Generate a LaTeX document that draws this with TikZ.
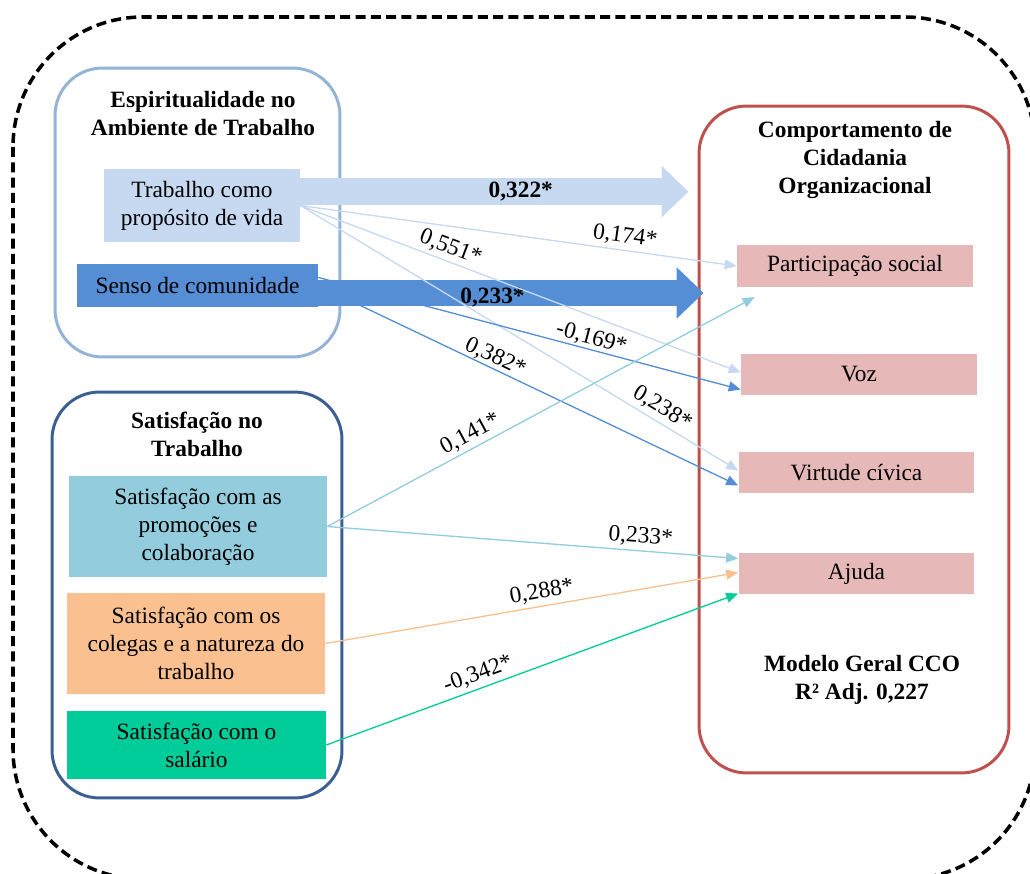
\documentclass[tikz,border=0pt]{standalone}
\usepackage{fontspec}
\setmainfont{Liberation Serif}
\usetikzlibrary{arrows.meta,calc}
\definecolor{espcor}{HTML}{95B3D7}
\definecolor{satcor}{HTML}{3B5F92}
\definecolor{ccocor}{HTML}{C0504D}
\definecolor{trabcor}{HTML}{C6D9F1}
\definecolor{sensocor}{HTML}{558ED5}
\definecolor{promocor}{HTML}{93CDDD}
\definecolor{colegcor}{HTML}{FAC090}
\definecolor{salcor}{HTML}{00CC99}
\definecolor{dimcor}{HTML}{E6B9B8}
\begin{document}
\begin{tikzpicture}[x=0.02cm, y=-0.02cm, font=\fontsize{13.3}{16}\selectfont,
	grupo/.style = {draw, line width=1.7pt, rounded corners=0.95cm, inner sep=0},
	titulo/.style = {align=center, font=\fontsize{13.3}{16}\selectfont\bfseries},
	fator/.style = {align=center, inner sep=0},
	dim/.style = {fill=dimcor, minimum width=4.72cm, minimum height=0.83cm, inner sep=0},
	grossa/.style = {-{Triangle[length=0.54cm, width=1.0cm]}},
	fina/.style = {line width=0.75pt, -{Triangle[length=0.24cm, width=0.2cm]}},
	peso/.style = {sloped, above, text=black, inner sep=2pt}]
	\useasboundingbox (0,0) rectangle (1030,874);
	% moldura externa
	\draw[line width=2pt, dash pattern=on 5.7pt off 3pt, rounded corners=2.6cm] (13,17) rectangle (1035,879);
	% grupos
	\node[grupo, draw=espcor, minimum width=5.7cm, minimum height=5.78cm] (esp) at (197.5,212.5) {};
	\node[grupo, draw=satcor, minimum width=5.8cm, minimum height=8.12cm] (sat) at (197,595) {};
	\node[grupo, draw=ccocor, minimum width=6.2cm, minimum height=13.34cm] (cco) at (854,439.5) {};
	\node[titulo] (esptit) at (203,113.5) {Espiritualidade no\\Ambiente de Trabalho};
	\node[titulo] (sattit) at (197,434) {Satisfação no\\Trabalho};
	\node[titulo] (ccotit) at (855,160) {Comportamento de\\Cidadania\\Organizacional};
	\node[titulo] (modelo) at (862,680) {Modelo Geral CCO\\R² Adj. 0,227};
	% fatores
	\node[fator, fill=trabcor, minimum width=3.92cm, minimum height=1.46cm] (trab) at (202,205.5) {Trabalho como\\propósito de vida};
	\node[fator, fill=sensocor, minimum width=4.82cm, minimum height=0.86cm] (senso) at (197.5,285.5) {Senso de comunidade};
	\node[fator, fill=promocor, minimum width=5.16cm, minimum height=2.02cm] (promo) at (198,526.5) {Satisfação com as\\promoções e\\colaboração};
	\node[fator, fill=colegcor, minimum width=5.16cm, minimum height=2.02cm] (coleg) at (196,643.5) {Satisfação com os\\colegas e a natureza do\\trabalho};
	\node[fator, fill=salcor, minimum width=5.18cm, minimum height=1.36cm] (sal) at (196.5,745) {Satisfação com o\\salário};
	\node[dim] (part) at (855,266) {Participação social};
	\node[dim] (voz) at (859,374.5) {Voz};
	\node[dim] (virt) at (856.5,472.5) {Virtude cívica};
	\node[dim] (ajuda) at (856.5,573.5) {Ajuda};
	% setas grossas
	\draw[grossa, trabcor, line width=0.54cm] ($(trab.north east)+(-2,23)$) -- node[pos=.57, text=black, font=\fontsize{13.3}{16}\selectfont\bfseries] {0,322*} ($(cco.west |- trab.north east)+(-9,23)$);
	\draw[grossa, sensocor, line width=0.52cm] ($(senso.east)+(-2,7.5)$) -- node[pos=.455, yshift=-0.1cm, text=black, font=\fontsize{13.3}{16}\selectfont\bfseries] {0,233*} ($(cco.west |- senso.east)+(6,7.5)$);
	% setas finas
	\draw[fina, trabcor] (trab.east) -- node[peso, pos=.74] {0,174*} (part.west);
	\draw[fina, trabcor] (trab.east) -- node[peso, pos=.33] {0,551*} ($(voz.west)+(0,-2)$);
	\draw[fina, trabcor] (trab.east) -- node[peso, pos=.81] {0,238*} ($(virt.west)+(0,-2)$);
	\draw[fina, sensocor] ($(senso.east)+(0,-8)$) -- node[peso, pos=.64, inner sep=0.5pt] {-0,169*} ($(voz.west)+(0,15)$);
	\draw[fina, sensocor] (senso.east) -- node[peso, pos=.41, inner sep=0.5pt] {0,382*} ($(virt.west)+(0,13)$);
	\draw[fina, promocor] (promo.east) -- node[peso, pos=.35] {0,141*} ($(part.south west)+(18,10)$);
	\draw[fina, promocor] (promo.east) -- node[peso, pos=.76] {0,233*} ($(ajuda.west)+(0,-15)$);
	\draw[fina, colegcor] (coleg.east) -- node[peso, pos=.53] {0,288*} ($(ajuda.west)+(0,-1)$);
	\draw[fina, salcor] (sal.east) -- node[peso, pos=.38] {-0,342*} ($(ajuda.south west)+(0,-1)$);
\end{tikzpicture}
\end{document}
